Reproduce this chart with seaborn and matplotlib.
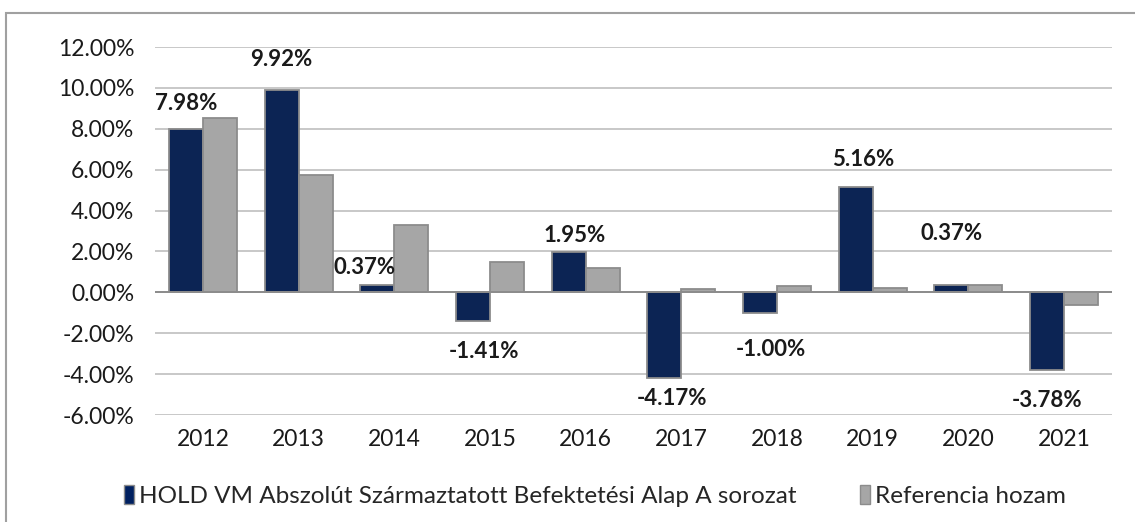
import numpy as np
import pandas as pd
import seaborn as sns
import matplotlib.pyplot as plt
from matplotlib.patches import Rectangle

# adatok
evek = ['2012', '2013', '2014', '2015', '2016', '2017', '2018', '2019', '2020', '2021']
alap = [7.98, 9.92, 0.37, -1.41, 1.95, -4.17, -1.00, 5.16, 0.37, -3.78]
referencia = [8.53, 5.73, 3.28, 1.50, 1.18, 0.18, 0.30, 0.20, 0.35, -0.62]

nev_alap = 'HOLD VM Abszolút Származtatott Befektetési Alap A sorozat'
nev_ref = 'Referencia hozam'

df = pd.DataFrame({
    'Ev': evek * 2,
    'Hozam': alap + referencia,
    'Sorozat': [nev_alap] * len(evek) + [nev_ref] * len(evek),
})

sns.set_theme(style='white')
plt.rcParams['font.family'] = ['Lato', 'DejaVu Sans']

kek = '#002060'
szurke = '#A6A6A6'

fig = plt.figure(figsize=(11.35, 5.22), dpi=100)
ax = fig.add_axes([155 / 1135, 1 - 415 / 522, (1112 - 155) / 1135, (415 - 47) / 522])

sns.barplot(data=df, x='Ev', y='Hozam', hue='Sorozat', palette=[kek, szurke],
            width=0.71, edgecolor='#8C8C8C', linewidth=1.3, ax=ax, legend=False,
            zorder=3)

ax.set_ylim(-6, 12)
ax.set_xlim(-0.5, len(evek) - 0.5)
ax.set_yticks(np.arange(-6, 13, 2))
ax.set_yticklabels([f'{v:.2f}%' for v in np.arange(-6, 13, 2)])
ax.yaxis.grid(True, color='#BFBFBF', linewidth=1.2, zorder=0)
ax.axhline(0, color='#8C8C8C', linewidth=1.4, zorder=4)
for s in ax.spines.values():
    s.set_visible(False)
ax.set_xlabel('')
ax.set_ylabel('')
ax.tick_params(axis='both', labelsize=16.5, colors='#1A1A1A', length=0)
ax.tick_params(axis='x', pad=10)
ax.tick_params(axis='y', pad=15)

# címkék eltolása (pixel) a kék oszlop végéhez képest
eltolas = [(0, 26), (0, 30), (-13, 17), (11, -30), (6, 17),
           (8, -21), (11, -37), (7, 27), (0, 51), (0, -31)]
kek_oszlopok = ax.patches[:len(evek)]
for bar, v, (dx, dy) in zip(kek_oszlopok, alap, eltolas):
    x = bar.get_x() + bar.get_width() / 2
    ax.annotate(f'{v:.2f}%', (x, v), xytext=(dx, dy), textcoords='offset pixels',
                ha='center', va='center', fontsize=16, fontweight='bold',
                color='#1A1A1A', zorder=5)

# jelmagyarázat
kezek = [Rectangle((0, 0), 1, 1, facecolor=kek, edgecolor='#8C8C8C'),
         Rectangle((0, 0), 1, 1, facecolor=szurke, edgecolor='#8C8C8C')]
fig.legend(kezek, [nev_alap, nev_ref], loc='center', bbox_to_anchor=(0.524, 1 - 496 / 522),
           ncol=2, frameon=False, fontsize=17.5, handlelength=0.42, handleheight=0.85,
           handletextpad=0.2, columnspacing=2.6)

# külső keret
fig.patches.append(Rectangle((6 / 1135, -0.1), 1.2, 1 - 13 / 522 + 0.1,
                             transform=fig.transFigure, fill=False,
                             edgecolor='#A0A0A0', linewidth=1.5))

fig.savefig('out.png', dpi=100)
